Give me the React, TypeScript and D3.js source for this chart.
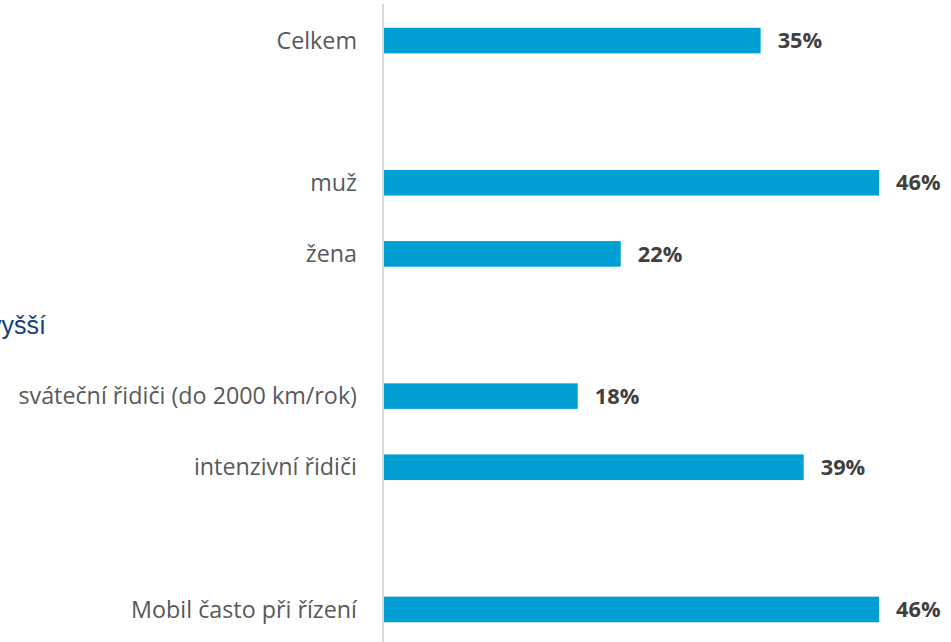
import React from "react";
import * as d3 from "d3";

const categories = [
  "Celkem",
  "",
  "muž",
  "žena",
  "vyšší",
  "sváteční řidiči (do 2000 km/rok)",
  "intenzivní řidiči",
  " ",
  "Mobil často při řízení",
];
const values: (number | null)[] = [35, null, 46, 22, null, 18, 39, null, 46];
const headerRows = ["vyšší"];

const W = 951;
const H = 642;
const AXIS_X = 383;

export default function App() {
  const keys = categories.map((c, i) => i);
  const y = d3
    .scaleBand<number>()
    .domain(keys)
    .range([5, 645])
    .paddingInner(0.64)
    .paddingOuter(0.32);
  const x = d3.scaleLinear().domain([0, 46]).range([AXIS_X + 1, 879]);
  const labelFont = "Open Sans, sans-serif";

  return (
    <svg
      width={W}
      height={H}
      style={{ position: "absolute", left: 0, top: 0, background: "#fff" }}
    >
      {keys.map((i) => {
        const cat = categories[i];
        const v = values[i];
        const cy = (y(i) as number) + y.bandwidth() / 2;
        if (headerRows.includes(cat)) {
          return (
            <text
              key={i}
              x={46}
              y={cy}
              dy="0.35em"
              textAnchor="end"
              fontFamily="Liberation Sans, Arial, sans-serif"
              fontSize={25}
              fill="#123F73"
            >
              {cat}
            </text>
          );
        }
        if (v == null) return null;
        return (
          <g key={i}>
            <rect
              x={x(0)}
              y={y(i)}
              width={x(v) - x(0)}
              height={y.bandwidth()}
              fill="#009FD3"
            />
            <text
              x={AXIS_X - 26}
              y={cy}
              dy="0.35em"
              textAnchor="end"
              fontFamily={labelFont}
              fontSize={23.3}
              fill="#595959"
            >
              {cat}
            </text>
            <text
              x={x(v) + 17}
              y={cy}
              dy="0.35em"
              textAnchor="start"
              fontFamily={labelFont}
              fontWeight="bold"
              fontSize={21.8}
              fill="#404040"
            >
              {v}%
            </text>
          </g>
        );
      })}
      <line x1={AXIS_X} x2={AXIS_X} y1={4} y2={H} stroke="#D9D9D9" strokeWidth={2} />
    </svg>
  );
}
